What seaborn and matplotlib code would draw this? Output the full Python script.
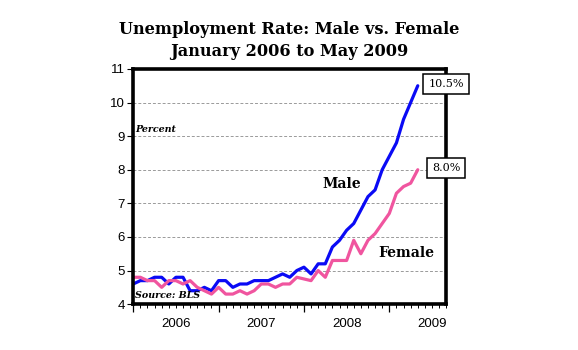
import numpy as np
import pandas as pd
import matplotlib
matplotlib.use("Agg")
import matplotlib.pyplot as plt
import matplotlib.transforms as mtransforms
import seaborn as sns

# Monthly unemployment rate (%), January 2006 through May 2009
male = [4.6, 4.7, 4.7, 4.8, 4.8, 4.6, 4.8, 4.8, 4.4, 4.4, 4.5, 4.4,
        4.7, 4.7, 4.5, 4.6, 4.6, 4.7, 4.7, 4.7, 4.8, 4.9, 4.8, 5.0,
        5.1, 4.9, 5.2, 5.2, 5.7, 5.9, 6.2, 6.4, 6.8, 7.2, 7.4, 8.0,
        8.4, 8.8, 9.5, 10.0, 10.5]
female = [4.8, 4.8, 4.7, 4.7, 4.5, 4.7, 4.7, 4.6, 4.7, 4.5, 4.4, 4.3,
          4.5, 4.3, 4.3, 4.4, 4.3, 4.4, 4.6, 4.6, 4.5, 4.6, 4.6, 4.8,
          4.75, 4.7, 5.0, 4.8, 5.3, 5.3, 5.3, 5.9, 5.5, 5.9, 6.1, 6.4,
          6.7, 7.3, 7.5, 7.6, 8.0]
years = ["2006", "2007", "2008", "2009"]
y_ticks = [4, 5, 6, 7, 8, 9, 10, 11]

months = np.arange(len(male))
df = pd.DataFrame({
    "month": np.concatenate([months, months]),
    "rate": male + female,
    "sex": ["Male"] * len(male) + ["Female"] * len(female),
})

sns.set_style("white")
plt.rcParams["font.family"] = ["Liberation Sans", "DejaVu Sans"]
for key in ("text.color", "axes.labelcolor", "xtick.color", "ytick.color"):
    plt.rcParams[key] = "black"

fig = plt.figure(figsize=(5.78, 3.5), dpi=100)
ax = fig.add_axes([0.2305, 0.131, 0.5415, 0.672])

palette = {"Male": "#0A0AF5", "Female": "#F0559F"}
sns.lineplot(data=df, x="month", y="rate", hue="sex", palette=palette,
             linewidth=2.3, legend=False, ax=ax)

ax.set_xlim(0, 44)
ax.set_ylim(4, 11)
ax.set_xlabel("")
ax.set_ylabel("")

# grid
for v in y_ticks[1:-1]:
    ax.axhline(v, color="#9a9a9a", lw=0.7, ls=(0, (3, 2)), zorder=0)

# spines
for s in ax.spines.values():
    s.set_linewidth(2.6)
    s.set_color("black")

ax.set_yticks(y_ticks)
ax.set_yticklabels([str(v) for v in y_ticks], fontsize=9.5)
ax.tick_params(axis="y", direction="out", length=4, width=0.8, pad=2, left=True)

ax.set_xticks([0, 12, 24, 36])
ax.set_xticklabels([])
ax.set_xticks(np.arange(0, 45), minor=True)
ax.tick_params(axis="x", which="major", direction="out", length=6, width=0.9, bottom=True)
ax.tick_params(axis="x", which="minor", direction="out", length=3, width=0.7, bottom=True)

trans = mtransforms.blended_transform_factory(ax.transData, ax.transAxes)
for i, yr in enumerate(years):
    ax.text(6 + 12 * i, -0.085, yr, transform=trans, ha="center", va="center",
            fontsize=9.5)

# title
title_font = dict(family="DejaVu Serif", weight="bold", fontsize=11.6, ha="center", va="center")
fig.text(0.5, 1 - 30 / 350, "Unemployment Rate: Male vs. Female", **title_font)
fig.text(0.5, 1 - 51 / 350, "January 2006 to May 2009", **title_font)

# annotations inside the plot
ax.text(0.25, 9.2, "Percent", family="DejaVu Serif", style="italic", weight="bold",
        fontsize=6.8, va="center", ha="left")
ax.text(0.25, 4.27, "Source: BLS", family="DejaVu Serif", style="italic", weight="bold",
        fontsize=6.8, va="center", ha="left")
ax.text(29.3, 7.59, "Male", family="DejaVu Serif", weight="bold", fontsize=10, ha="center", va="center")
ax.text(38.4, 5.53, "Female", family="DejaVu Serif", weight="bold", fontsize=10, ha="center", va="center")

# end-value boxes on the right edge
trans2 = mtransforms.blended_transform_factory(ax.transAxes, ax.transData)
for val in (male[-1], female[-1]):
    ax.text(1.0, val + 0.05, f"{val:.1f}%", transform=trans2, family="DejaVu Serif",
            fontsize=8, ha="center", va="center", clip_on=False,
            bbox=dict(boxstyle="square,pad=0.45", fc="white", ec="black", lw=1.1))

fig.savefig("out.png", dpi=100, facecolor="white")
